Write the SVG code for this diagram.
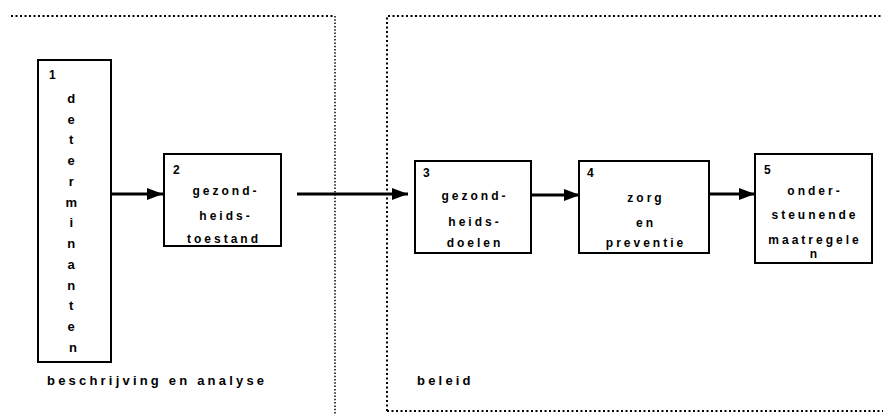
<svg xmlns="http://www.w3.org/2000/svg" width="883" height="414" viewBox="0 0 883 414">
  <style>
    .box { fill: #fff; stroke: #000; stroke-width: 2; }
    .num { font-family: "Liberation Sans", Arial, sans-serif; font-weight: bold; font-size: 12px; fill: #000; }
    .lbl { font-family: "Liberation Sans", Arial, sans-serif; font-weight: bold; font-size: 12px; letter-spacing: 3px; fill: #000; text-anchor: middle; }
    .vert { font-family: "Liberation Sans", Arial, sans-serif; font-weight: bold; font-size: 13px; fill: #000; text-anchor: middle; }
    .area { font-family: "Liberation Sans", Arial, sans-serif; font-weight: bold; font-size: 13px; letter-spacing: 3.2px; fill: #000; }
    .dot { fill: none; stroke: #000; stroke-width: 2; stroke-dasharray: 2 2.5; }
    .dotthin { fill: none; stroke: #000; stroke-width: 1.5; stroke-dasharray: 1.5 1.8; }
    .link { fill: none; stroke: #000; stroke-width: 3; }
  </style>
  <defs>
    <marker id="arrow" markerUnits="userSpaceOnUse" markerWidth="16" markerHeight="12" refX="16" refY="6" orient="auto">
      <path d="M0,0 L16,6 L0,12 Z" fill="#000"/>
    </marker>
  </defs>

  <!-- area frames -->
  <g id="areas">
    <path class="dot" d="M11,16 H335"/>
    <path class="dotthin" d="M335,16 V414"/>
    <path class="dot" d="M387,411 V16 H883"/>
    <path class="dot" d="M387,411 H883"/>
    <text class="area" x="47" y="385">beschrijving en analyse</text>
    <text class="area" x="417" y="385">beleid</text>
  </g>

  <!-- connectors -->
  <g id="connectors">
    <line class="link" x1="112" y1="194" x2="163" y2="194" marker-end="url(#arrow)"/>
    <line class="link" x1="297" y1="194" x2="408" y2="194" marker-end="url(#arrow)"/>
    <line class="link" x1="532" y1="195" x2="580" y2="195" marker-end="url(#arrow)"/>
    <line class="link" x1="710" y1="194" x2="755" y2="194" marker-end="url(#arrow)"/>
  </g>

  <g id="node1">
    <rect class="box" x="38" y="60" width="73" height="302"/>
    <text class="num" x="49" y="79">1</text>
    <text class="vert" x="73">
      <tspan x="73" y="103">d</tspan>
      <tspan x="73" y="124">e</tspan>
      <tspan x="73" y="144">t</tspan>
      <tspan x="73" y="165">e</tspan>
      <tspan x="73" y="186">r</tspan>
      <tspan x="73" y="207">m</tspan>
      <tspan x="73" y="227">i</tspan>
      <tspan x="73" y="248">n</tspan>
      <tspan x="73" y="269">a</tspan>
      <tspan x="73" y="290">n</tspan>
      <tspan x="73" y="310">t</tspan>
      <tspan x="73" y="331">e</tspan>
      <tspan x="73" y="352">n</tspan>
    </text>
  </g>

  <g id="node2">
    <rect class="box" x="164" y="154" width="117" height="92"/>
    <text class="num" x="173" y="174">2</text>
    <text class="lbl" x="226" y="195">gezond-</text>
    <text class="lbl" x="226" y="220">heids-</text>
    <text class="lbl" x="224" y="243">toestand</text>
  </g>

  <g id="node3">
    <rect class="box" x="415" y="161" width="116" height="92"/>
    <text class="num" x="423" y="177">3</text>
    <text class="lbl" x="475" y="200">gezond-</text>
    <text class="lbl" x="475" y="226">heids-</text>
    <text class="lbl" x="475" y="247">doelen</text>
  </g>

  <g id="node4">
    <rect class="box" x="579" y="161" width="130" height="92"/>
    <text class="num" x="587" y="177">4</text>
    <text class="lbl" x="646" y="202">zorg</text>
    <text class="lbl" x="646" y="227">en</text>
    <text class="lbl" x="646" y="247">preventie</text>
  </g>

  <g id="node5">
    <rect class="box" x="755" y="154" width="117" height="109"/>
    <text class="num" x="764" y="174">5</text>
    <text class="lbl" x="815" y="195">onder-</text>
    <text class="lbl" x="815" y="219">steunende</text>
    <text class="lbl" x="815" y="244">maatregele</text>
    <text class="lbl" x="815" y="258">n</text>
  </g>
</svg>
